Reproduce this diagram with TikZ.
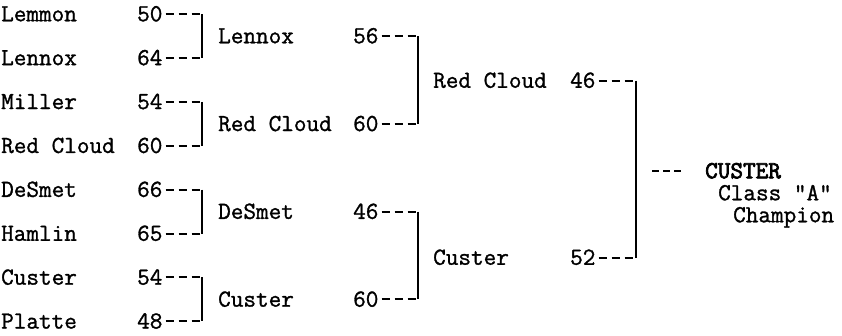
\documentclass[tikz,border=0pt]{standalone}
\usepackage{fontspec}
\newfontfamily\tw{Latin Modern Mono}[FakeBold=1.2]
\newfontfamily\twb{Latin Modern Mono}[FakeBold=3]
\usetikzlibrary{calc}
\begin{document}
\begin{tikzpicture}[x=1pt,y=-1pt,
  lbl/.style={anchor=west,inner sep=0pt,font=\fontsize{24.5}{27}\selectfont\tw,text height=14.5pt,text depth=0pt},
  champ/.style={lbl,font=\fontsize{24.5}{27}\selectfont\twb},
  dsh/.style={line width=2pt,dash pattern=on 8pt off 5pt},
  brk/.style={line width=1.8pt},
]
\useasboundingbox (0,0) rectangle (842,335);
% first round
\foreach \i/\n/\s in {0/Lemmon/50,1/Lennox/64,2/Miller/54,3/Red Cloud/60,4/DeSmet/66,5/Hamlin/65,6/Custer/54,7/Platte/48}{
  \node[lbl] (a\i) at (1,{14+43.9*\i}) {\n};
  \node[lbl] (as\i) at (137,{14+43.9*\i}) {\s};
  \coordinate (ac\i) at (202,{14+43.9*\i});
  \draw[dsh] ($(as\i.east)+(3,0)$) -- (ac\i);
}
\draw[brk] (ac0) -- (ac1);
\draw[brk] (ac2) -- (ac3);
\draw[brk] (ac4) -- (ac5);
\draw[brk] (ac6) -- (ac7);
% second round
\foreach \i/\n/\s/\y in {0/Lennox/56/36,1/Red Cloud/60/123.8,2/DeSmet/46/211.6,3/Custer/60/299.4}{
  \node[lbl] (b\i) at (218,\y) {\n};
  \node[lbl] (bs\i) at (353,\y) {\s};
  \coordinate (bc\i) at (418,\y);
  \draw[dsh] ($(bs\i.east)+(3,0)$) -- (bc\i);
}
\draw[brk] (bc0) -- (bc1);
\draw[brk] (bc2) -- (bc3);
% third round
\foreach \i/\n/\s/\y in {0/Red Cloud/46/80.5,1/Custer/52/257.5}{
  \node[lbl] (c\i) at (433,\y) {\n};
  \node[lbl] (cs\i) at (570,\y) {\s};
  \coordinate (cc\i) at (636,\y);
  \draw[dsh] ($(cs\i.east)+(3,0)$) -- (cc\i);
}
\draw[brk] (cc0) -- (cc1);
% champion
\node[champ] (w) at (705,171) {CUSTER};
\node[lbl] (w2) at (718,193) {Class "A"};
\node[lbl] (w3) at (733,215) {Champion};
\coordinate (f0) at (652,171);
\coordinate (f1) at (681,171);
\draw[line width=2pt,dash pattern=on 7pt off 4pt] (f0) -- (f1);
\end{tikzpicture}
\end{document}
